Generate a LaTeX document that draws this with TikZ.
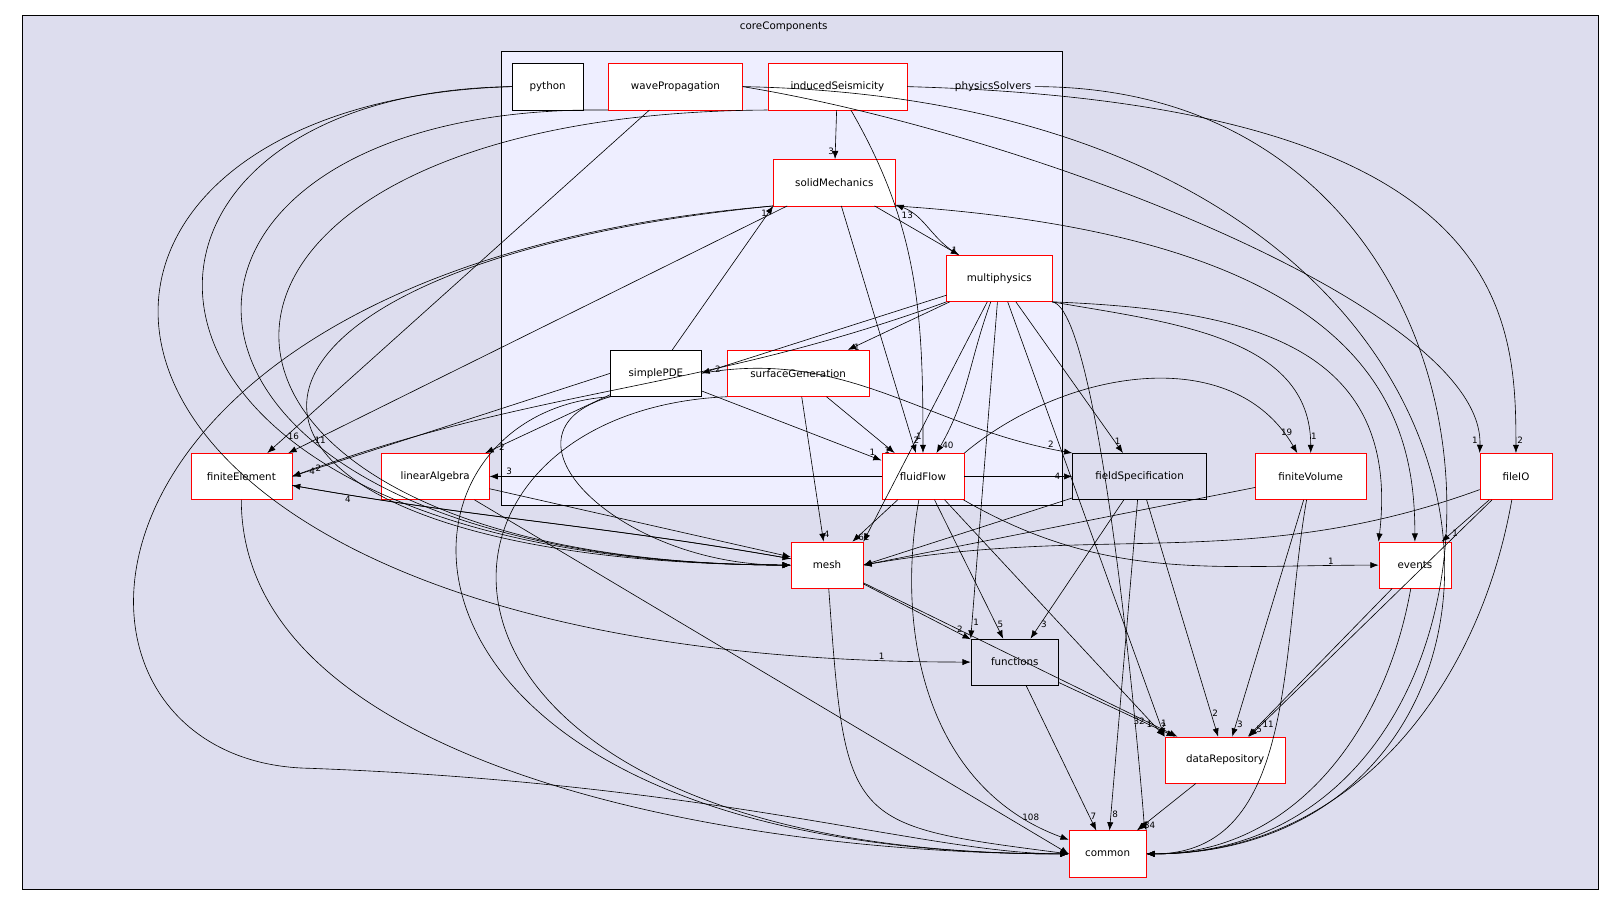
\documentclass[tikz,border=0pt]{standalone}
\usepackage{fontspec}
\setmainfont{DejaVu Sans}
\usetikzlibrary{positioning,arrows.meta}
\definecolor{outerfill}{HTML}{DDDDEE}
\definecolor{innerfill}{HTML}{EEEEFF}
\tikzset{
  rd/.style={rectangle, draw=red, fill=white, minimum height=45pt, text centered, font=\fontsize{10}{12}\selectfont},
  bk/.style={rectangle, draw=black, fill=white, minimum height=45pt, text centered, font=\fontsize{10}{12}\selectfont},
  lb/.style={font=\fontsize{8.5}{9}\selectfont, inner sep=1pt},
  ed/.style={-{Latex[length=8pt,width=6pt]}, black, line width=0.6pt}
}
\begin{document}
\begin{tikzpicture}[x=1pt,y=-1pt]
	\useasboundingbox (0,0) rectangle (1568,877.6);
	\draw[fill=outerfill] (22,15) rectangle (1550,862);
	\node[font=\fontsize{10}{12}\selectfont] at (760,26) {coreComponents};
	\draw[fill=innerfill] (486,50) rectangle (1030,490);
	\node[font=\fontsize{10}{12}\selectfont] (ps) at (963,84) {physicsSolvers};

	\node[bk, minimum width=69pt] (python) at (531,84) {python};
	\node[rd, minimum width=130pt] (wave) at (655,84) {wavePropagation};
	\node[rd, minimum width=135pt] (induced) at (812,84) {inducedSeismicity};
	\node[rd, minimum width=118pt] (solid) at (809,177) {solidMechanics};
	\node[rd, minimum width=102pt] (multi) at (969,270) {multiphysics};
	\node[bk, minimum width=88pt] (simple) at (636,362) {simplePDE};
	\node[rd, minimum width=138pt] (surface) at (774,362) {surfaceGeneration};
	\node[rd, minimum width=80pt] (fluid) at (895,462) {fluidFlow};
	\node[rd, minimum width=98pt] (fe) at (234,462) {finiteElement};
	\node[rd, minimum width=105pt] (linalg) at (422,462) {linearAlgebra};
	\node[bk, fill=outerfill, minimum width=130pt] (fieldspec) at (1105,462) {fieldSpecification};
	\node[rd, minimum width=107pt] (fv) at (1271,462) {finiteVolume};
	\node[rd, minimum width=70pt] (fileio) at (1470,462) {fileIO};
	\node[rd, minimum width=70pt] (mesh) at (802,548) {mesh};
	\node[rd, minimum width=70pt] (events) at (1372,548) {events};
	\node[bk, fill=outerfill, minimum width=85pt] (functions) at (984,642) {functions};
	\node[rd, minimum width=117pt] (datarepo) at (1188,737) {dataRepository};
	\node[rd, minimum width=75pt] (common) at (1074,828) {common};

	% physicsSolvers level
	\draw[ed] (induced) -- node[lb, pos=0.85, left] {3} (solid);
	\draw[ed] (induced) to[out=-60, in=90] node[lb, pos=0.97, above left] {1} (fluid);
	\draw[ed] (induced.south west) .. controls (110,110) and (110,545) .. (mesh.west);
	\draw[ed] (induced.east) .. controls (1460,100) and (1470,300) .. node[lb, pos=0.97, right] {2} (fileio);
	\draw[ed] (wave) -- node[lb, pos=0.95, right] {16} (fe);
	\draw[ed] (wave.south west) .. controls (90,100) and (90,545) .. (mesh.west);
	\draw[ed] (wave.east) .. controls (1000,130) and (1440,300) .. node[lb, pos=0.97, left] {1} (fileio.north west);
	\draw[ed] (wave.east) .. controls (1545,100) and (1545,828) .. (common.east);
	\draw[ed] (python.west) .. controls (60,90) and (60,545) .. (mesh.west);
	\draw[ed] (python.west) .. controls (-30,100) and (0,642) .. node[lb, pos=0.97, above left] {1} (functions.west);
	\draw[ed] (ps.east) .. controls (1515,84) and (1515,828) .. (common.east);

	\draw[ed] (solid) -- node[lb, pos=0.9, right] {1} (multi);
	\draw[ed] (multi) to[out=150, in=-20] node[lb, pos=0.85, below] {13} (solid);
	\draw[ed] (solid) -- node[lb, pos=0.95, right] {2} (fluid);
	\draw[ed] (solid) -- node[lb, pos=0.95, right] {11} (fe);
	\draw[ed] (solid.south west) .. controls (140,260) and (150,545) .. (mesh.west);
	\draw[ed] (solid.south west) .. controls (30,260) and (20,740) .. (300,745) .. controls (700,760) and (900,828) .. (common.west);
	\draw[ed] (solid.south east) .. controls (1330,230) and (1372,400) .. (events);
	\draw[ed] (simple) -- node[lb, pos=0.95, left] {1} (solid.south west);

	\draw[ed] (multi) -- node[lb, pos=0.95, right] {2} (simple.east);
	\draw[ed] (multi) -- node[lb, pos=0.95, right] {1} (surface);
	\draw[ed] (multi) to[out=-110, in=60] node[lb, pos=0.95, right] {40} (fluid);
	\draw[ed] (multi) -- node[lb, pos=0.95, above] {1} (fieldspec);
	\draw[ed] (multi.south east) to[out=-10, in=90] node[lb, pos=0.95, right] {1} (fv);
	\draw[ed] (multi) -- node[lb, pos=0.95, right] {1} (functions.north west);
	\draw[ed] (multi) -- node[lb, pos=0.97, right] {1} (datarepo.north west);
	\draw[ed] (multi) -- (mesh.north east);
	\draw[ed] (multi.south east) .. controls (1070,300) and (1110,800) .. (common.north east);
	\draw[ed] (multi.south east) .. controls (1200,300) and (1360,330) .. (events.north west);
	\draw[ed] (multi.south west) to[out=200, in=20] node[lb, pos=0.97, right] {2} (fe.east);

	\draw[ed] (simple) -- node[lb, pos=0.9, right] {2} (linalg);
	\draw[ed] (simple) -- node[lb, pos=0.95, above] {1} (fluid);
	\draw[ed] (simple.east) to[out=10, in=170] node[lb, pos=0.95, above] {2} (fieldspec.north west);
	\draw[ed] (simple.west) -- node[lb, pos=0.95, right] {4} (fe.east);
	\draw[ed] (simple.south west) .. controls (350,400) and (340,828) .. (common.west);
	\draw[ed] (simple.south west) .. controls (470,420) and (600,548) .. (mesh.west);
	\draw[ed] (surface) -- node[lb, pos=0.95, left] {1} (fluid);
	\draw[ed] (surface) -- node[lb, pos=0.95, right] {4} (mesh);
	\draw[ed] (surface.south west) .. controls (370,400) and (360,828) .. (common.west);

	% lower level
	\draw[ed] (fluid) -- node[lb, pos=0.95, above] {3} (linalg);
	\draw[ed] (fluid) -- node[lb, pos=0.9, left] {4} (fieldspec);
	\draw[ed] (fluid) -- node[lb, pos=0.9, right] {61} (mesh);
	\draw[ed] (fluid) -- node[lb, pos=0.9, right] {5} (functions);
	\draw[ed] (fluid) to[out=-100, in=160] node[lb, pos=0.9, above] {108} (common);
	\draw[ed] (fluid) -- node[lb, pos=0.95, left] {1} (datarepo.north west);
	\draw[ed] (fluid) to[out=-30, in=180] node[lb, pos=0.9, above] {1} (events);
	\draw[ed] (fluid.north east) to[out=40, in=120] node[lb, pos=0.95, above] {19} (fv);
	\draw[ed] (fe) to[out=-10, in=170] (mesh);
	\draw[ed] (mesh) to[out=170, in=-10] node[lb, pos=0.9, below] {4} (fe);
	\draw[ed] (fe) .. controls (234,740) and (700,828) .. (common.west);
	\draw[ed] (linalg) -- (mesh);
	\draw[ed] (linalg) -- (common.west);
	\draw[ed] (fieldspec) -- (mesh.east);
	\draw[ed] (fieldspec) -- node[lb, pos=0.9, right] {3} (functions);
	\draw[ed] (fieldspec) -- node[lb, pos=0.9, right] {2} (datarepo);
	\draw[ed] (fieldspec) -- node[lb, pos=0.95, right] {8} (common);
	\draw[ed] (fv) -- (mesh.east);
	\draw[ed] (fv) -- node[lb, pos=0.95, right] {3} (datarepo);
	\draw[ed] (fv) to[out=-100, in=0] (common);
	\draw[ed] (fileio) -- node[lb, pos=0.8, right] {1} (events);
	\draw[ed] (fileio) to[out=200, in=10] (mesh.east);
	\draw[ed] (fileio) -- node[lb, pos=0.95, right] {11} (datarepo);
	\draw[ed] (fileio) to[out=-100, in=0] (common);
	\draw[ed] (events) -- node[lb, pos=0.95, right] {5} (datarepo);
	\draw[ed] (events) to[out=-100, in=0] (common);
	\draw[ed] (mesh) -- node[lb, pos=0.9, above] {2} (functions);
	\draw[ed] (mesh) -- node[lb, pos=0.9, left] {32} (datarepo);
	\draw[ed] (mesh) .. controls (820,800) .. (common.west);
	\draw[ed] (functions) -- node[lb, pos=0.9, above] {2} (datarepo);
	\draw[ed] (functions) -- node[lb, pos=0.9, right] {7} (common);
	\draw[ed] (datarepo) -- node[lb, pos=0.9, right] {34} (common);
\end{tikzpicture}
\end{document}
